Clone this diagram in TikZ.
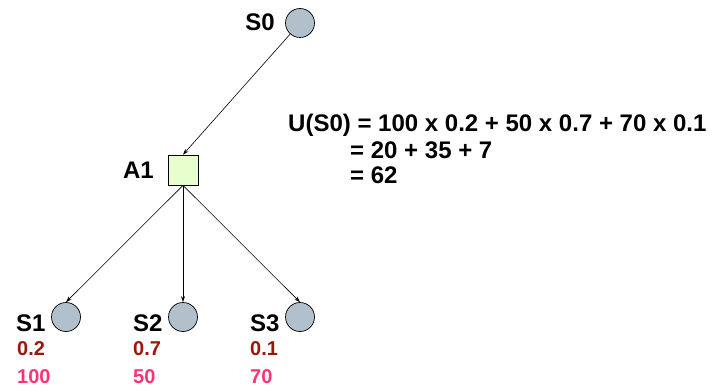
\documentclass[tikz,border=0pt]{standalone}
\usepackage{fontspec}
\setmainfont{Liberation Sans}
\usetikzlibrary{arrows.meta}
\definecolor{stategray}{HTML}{B2C0CC}
\definecolor{actgreen}{HTML}{E6FFCC}
\definecolor{probred}{HTML}{99180A}
\definecolor{utilpink}{HTML}{FF3377}
\begin{document}
\begin{tikzpicture}[x=1pt,y=-1pt,
  statenode/.style={circle,draw=black,fill=stategray,line width=0.7pt,minimum size=29pt,inner sep=0pt},
  actnode/.style={rectangle,draw=black,fill=actgreen,line width=0.7pt,minimum size=30pt,inner sep=0pt},
  lbl/.style={font=\fontsize{24}{26}\selectfont\bfseries,inner sep=0pt},
  prob/.style={font=\fontsize{20}{22}\selectfont\bfseries,text=probred,inner sep=0pt,anchor=west},
  util/.style={font=\fontsize{20}{22}\selectfont\bfseries,text=utilpink,inner sep=0pt,anchor=west},
  eq/.style={font=\fontsize{24}{26}\selectfont\bfseries,inner sep=0pt,anchor=west},
  conn/.style={-{Stealth[length=6pt,width=4pt]},line width=0.6pt}]
\useasboundingbox (0,0) rectangle (714,390);
\node[statenode] (S0) at (300,23) {};
\node[lbl,anchor=east] (lS0) at (275,22) {S0};
\node[actnode] (A1) at (183,170) {};
\node[lbl,anchor=east] (lA1) at (154,170) {A1};
\node[statenode] (S1) at (66,317) {};
\node[statenode] (S2) at (183,317) {};
\node[statenode] (S3) at (300,317) {};
\node[lbl,anchor=west] (lS1) at (16,323) {S1};
\node[lbl,anchor=west] (lS2) at (133,323) {S2};
\node[lbl,anchor=west] (lS3) at (250,323) {S3};
\node[prob] (p1) at (17,349) {0.2};
\node[prob] (p2) at (133,349) {0.7};
\node[prob] (p3) at (250,349) {0.1};
\node[util] (u1) at (17,377) {100};
\node[util] (u2) at (133,377) {50};
\node[util] (u3) at (250,377) {70};
\node[eq] (e1) at (288,125) {U(S0) = 100 x 0.2 + 50 x 0.7 + 70 x 0.1};
\node[eq] (e2) at (350,150) {= 20 + 35 + 7};
\node[eq] (e3) at (350,175) {= 62};
\draw[conn] (S0) -- (A1.north);
\draw[conn] (A1.south) -- (S1.north);
\draw[conn] (A1.south) -- (S2.north);
\draw[conn] (A1.south) -- (S3.north);
\end{tikzpicture}
\end{document}
